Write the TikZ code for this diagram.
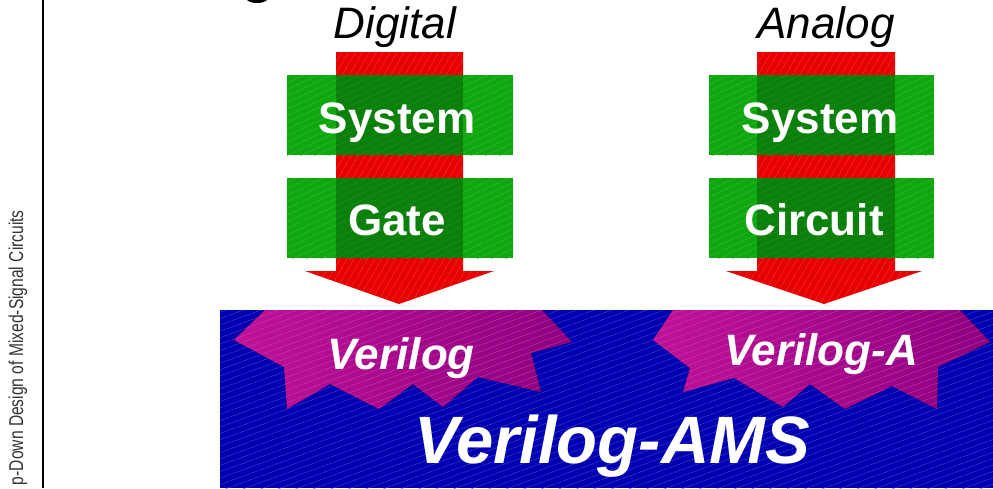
\documentclass[tikz,border=0pt]{standalone}
\usepackage{fontspec}
\setmainfont{Liberation Sans}
\usetikzlibrary{patterns.meta}

\definecolor{arrowred}{RGB}{232,0,0}
\definecolor{boxgreen}{RGB}{14,168,14}
\definecolor{boxdark}{RGB}{10,128,10}
\definecolor{amsblue}{RGB}{0,0,178}
\definecolor{starpink}{RGB}{192,18,152}
\definecolor{stardark}{RGB}{140,0,128}

\begin{document}
\begin{tikzpicture}[x=1pt,y=-1pt,
		lbl/.style={font=\fontsize{44}{44}\selectfont\bfseries, text=white, inner sep=0pt, anchor=base},
		ilbl/.style={lbl, font=\fontsize{44}{44}\selectfont\bfseries\itshape},
		head/.style={font=\fontsize{44}{44}\selectfont\itshape, inner sep=0pt, anchor=base},
		hatch/.style={postaction={pattern={Lines[angle=#1,distance=6pt,line width=0.35pt]}}}]
	\useasboundingbox (0,0) rectangle (993,488);

	% side bar
	\draw[line width=2pt] (43,0) -- (43,488);
	\node[rotate=90, anchor=east, inner sep=0pt, text=black!80,
		font=\fontsize{20}{20}\selectfont, xscale=0.78] (side) at (18,210)
		{p-Down Design of Mixed-Signal Circuits};
	\fill (247,0) .. controls (251,4) and (263,4) .. (267,0) -- cycle;

	% Verilog-AMS block
	\fill[amsblue, hatch=20, pattern color=amsblue!70!white] (220,310) rectangle (993,488);

	\fill[left color=starpink, right color=stardark, hatch=20, pattern color=starpink!80!white]
		(265,310) -- (234,340) -- (284,367) -- (287,409) -- (330,384) -- (379,409)
		-- (413,384) -- (443,407) -- (478,377) -- (541,392) -- (531,353)
		-- (572,342) -- (542,310) -- cycle;
	\fill[left color=starpink, right color=stardark, hatch=20, pattern color=starpink!80!white]
		(673,310) -- (653,340) -- (690,368) -- (683,392) -- (734,378) -- (783,407)
		-- (810,384) -- (845,409) -- (892,386) -- (937,409) -- (938,367)
		-- (990,342) -- (960,310) -- cycle;

	% flow arrows
	\fill[arrowred, hatch=60, pattern color=arrowred!75!white]
		(336,52) -- (463,52) -- (463,271) -- (494,271) -- (399,304) -- (305,271) -- (336,271) -- cycle;
	\fill[arrowred, hatch=60, pattern color=arrowred!75!white]
		(757,52) -- (895,52) -- (895,271) -- (922,271) -- (824,304) -- (726,271) -- (757,271) -- cycle;

	% abstraction levels
	\foreach \xa/\xb/\sa/\sb in {287/513/336/463, 709/934/757/895}{
		\foreach \ya in {75,178}{
			\fill[boxgreen, hatch=25, pattern color=boxgreen!80!white] (\xa,\ya) rectangle (\xb,\ya+80);
			\fill[boxdark, hatch=25, pattern color=boxdark!88!white] (\sa,\ya) rectangle (\sb,\ya+80);
		}
	}

	\node[head] (dig) at (395,38) {Digital};
	\node[head] (ana) at (826,38) {Analog};

	\node[lbl] (sysL) at (397,133) {System};
	\node[lbl] (gate) at (397,235) {Gate};
	\node[lbl] (sysR) at (820,133) {System};
	\node[lbl] (circ) at (814,235) {Circuit};

	\node[ilbl] (vlog) at (401,369) {Verilog};
	\node[ilbl] (vloga) at (821,365) {Verilog-A};
	\node[ilbl, font=\fontsize{67}{67}\selectfont\bfseries\itshape] (ams) at (612,463) {Verilog-AMS};
\end{tikzpicture}
\end{document}
